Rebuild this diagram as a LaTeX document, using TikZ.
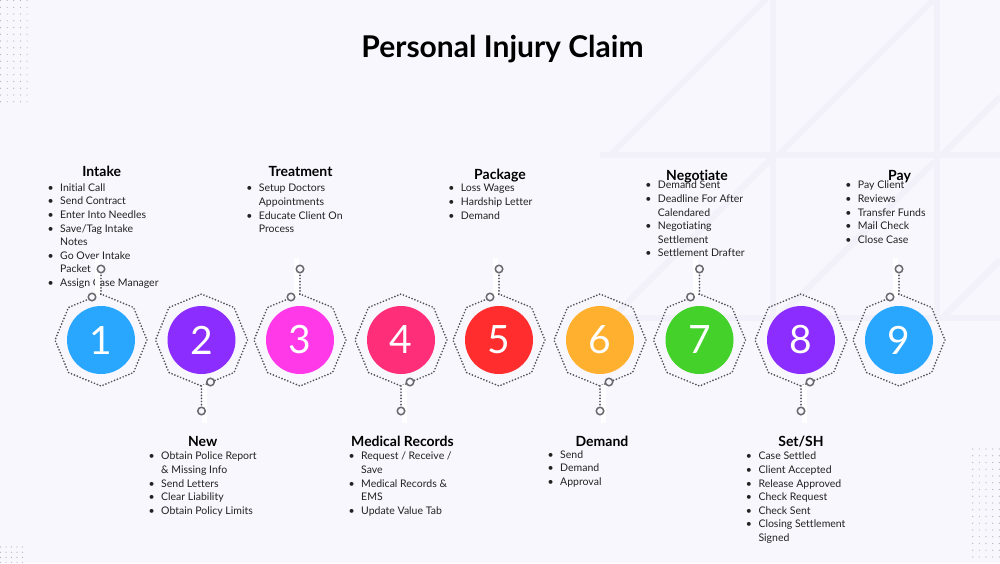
\documentclass[tikz,border=0pt]{standalone}
\usepackage{fontspec}
\setmainfont{Lato}[Ligatures=NoCommon]
\definecolor{bg}{RGB}{248,247,254}
\definecolor{gridc}{RGB}{242,241,249}
\definecolor{dotc}{RGB}{175,175,185}
\definecolor{txt}{RGB}{34,34,34}
\definecolor{dotline}{RGB}{82,82,88}
\definecolor{ringc}{RGB}{105,105,110}
\definecolor{cA}{RGB}{41,167,255}
\definecolor{cB}{RGB}{140,45,255}
\definecolor{cC}{RGB}{255,56,232}
\definecolor{cD}{RGB}{255,46,120}
\definecolor{cE}{RGB}{255,45,45}
\definecolor{cF}{RGB}{255,176,46}
\definecolor{cG}{RGB}{67,209,42}
\newcommand\itm{\leavevmode\llap{\textbullet\hspace{6.5pt}}}
\newcommand\fl{\rule{0pt}{10pt}}
\begin{document}
\begin{tikzpicture}[x=1pt,y=-1pt,
  body/.style={anchor=north west, inner sep=0pt, align=left, text=txt,
    font=\fontsize{10.5}{13.6}\selectfont},
  head/.style={anchor=base, inner sep=0pt, text=black,
    font=\bfseries\fontsize{14}{16}\selectfont},
  num/.style={circle, minimum size=68pt, inner sep=0pt, text=white,
    font=\fontsize{39}{41}\selectfont},
  octa/.style={dotline, line width=1.9pt, dash pattern=on 0pt off 3.1pt, line cap=round},
  dots/.style={dotline, line width=1.9pt, dash pattern=on 0pt off 3.1pt, line cap=round},
  ring/.style={circle, draw=ringc, line width=1.5pt, fill=bg, minimum size=7.5pt, inner sep=0pt},
  gline/.style={gridc, line width=6pt}]
\useasboundingbox (0,0) rectangle (1000,563);
\fill[bg] (0,0) rectangle (1000,563);
% faint background grid
\draw[gline] (773,0) -- (773,322);
\draw[gline] (937,0) -- (937,322);
\draw[gline] (600,155) -- (1000,155);
\draw[gline] (600,318) -- (1000,318);
\draw[gline] (610,155) -- (768,-3);
\draw[gline] (778,155) -- (934,-1);
\draw[gline] (942,155) -- (1000,97);
\draw[gline] (612,318) -- (770,160);
\draw[gline] (778,318) -- (934,162);
\draw[gline] (942,318) -- (1000,260);
% dot grids
\foreach \i in {0,...,4}{\foreach \j in {0,...,15}{\fill[dotc] (0.5+6.65*\i,0.5+6.75*\j) circle (0.6);}}
\foreach \i in {0,...,4}{\foreach \j in {0,...,3}{\fill[dotc] (0.5+5.5*\i,547+5.2*\j) circle (0.6);}}
\foreach \i in {0,...,4}{\foreach \j in {0,...,16}{\fill[dotc] (972.7+6.65*\i,449+6.75*\j) circle (0.6);}}
% title
\node[anchor=base, inner sep=0pt, font=\bfseries\fontsize{30}{36}\selectfont] (title) at (502.5,57.3) {Personal Injury Claim};
% headings
\node[head] (h1) at (101.7,176.7) {Intake};
\node[head] (h2) at (202.7,446) {New};
\node[head] (h3) at (300.5,176.7) {Treatment};
\node[head] (h4) at (402.5,446) {Medical Records};
\node[head] (h5) at (500,179.3) {Package};
\node[head] (h6) at (602,446) {Demand};
\node[head] (h7) at (697,180) {Negotiate};
\node[head] (h8) at (801,446) {Set/SH};
\node[head] (h9) at (899.5,180) {Pay};
% bullet lists
\node[body] (b1) at (60,181) {\fl\itm Initial Call\\\itm Send Contract\\\itm Enter Into Needles\\\itm Save/Tag Intake\\Notes\\\itm Go Over Intake\\Packet\\\itm Assign Case Manager};
\node[body] (b2) at (161,449.7) {\fl\itm Obtain Police Report\\\& Missing Info\\\itm Send Letters\\\itm Clear Liability\\\itm Obtain Policy Limits};
\node[body] (b3) at (258.7,181.7) {\fl\itm Setup Doctors\\Appointments\\\itm Educate Client On\\Process};
\node[body] (b4) at (361,449.7) {\fl\itm Request / Receive /\\Save\\\itm Medical Records \&\\EMS\\\itm Update Value Tab};
\node[body] (b5) at (460.7,181.7) {\fl\itm Loss Wages\\\itm Hardship Letter\\\itm Demand};
\node[body] (b6) at (560,448) {\fl\itm Send\\\itm Demand\\\itm Approval};
\node[body] (b7) at (657.7,178.7) {\fl\itm Demand Sent\\\itm Deadline For After\\Calendared\\\itm Negotiating\\Settlement\\\itm Settlement Drafter};
\node[body] (b8) at (758.3,449.7) {\fl\itm Case Settled\\\itm Client Accepted\\\itm Release Approved\\\itm Check Request\\\itm Check Sent\\\itm Closing Settlement\\Signed};
\node[body] (b9) at (857.7,178.7) {\fl\itm Pay Client\\\itm Reviews\\\itm Transfer Funds\\\itm Mail Check\\\itm Close Case};
% steps
\foreach \i/\cx/\col in {1/101/cA,2/201.5/cB,3/300/cC,4/401/cD,5/499/cE,6/600/cF,7/699.5/cG,8/801/cB,9/899/cA}{
  \draw[octa] plot[samples at={0,45,...,315}] ({\cx+46*cos(\x)},{340+46*sin(\x)}) -- cycle;
  \node[num, fill=\col] (c\i) at (\cx,340) {\i};
  \ifodd\i
    \fill[white] (\cx-6.5,258) rectangle (\cx-1.5,297);
    \coordinate (v\i) at (\cx,294);
    \node[ring] (ra\i) at (\cx-9,297) {};
    \node[ring] (rb\i) at (\cx,269) {};
  \else
    \fill[white] (\cx+0.8,385) rectangle (\cx+5.8,423);
    \coordinate (v\i) at (\cx,386);
    \node[ring] (ra\i) at (\cx+9,382) {};
    \node[ring] (rb\i) at (\cx,411) {};
  \fi
  \draw[dots] (v\i) -- (rb\i);
}
\end{tikzpicture}
\end{document}
